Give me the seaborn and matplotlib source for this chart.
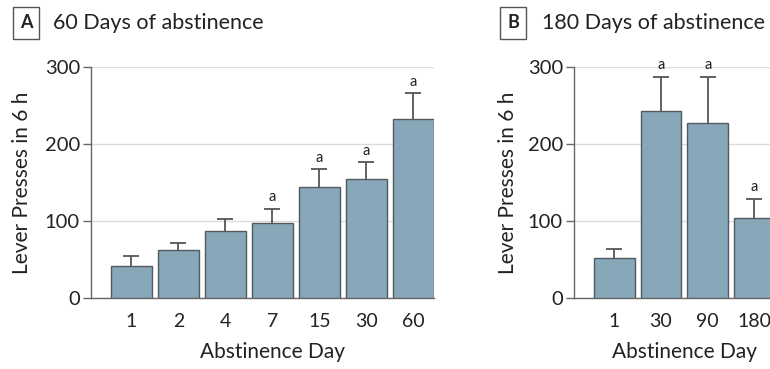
import matplotlib
matplotlib.use("Agg")
import matplotlib.pyplot as plt
import seaborn as sns
import pandas as pd
import numpy as np

days_a = ["1", "2", "4", "7", "15", "30", "60"]
mean_a = [42, 62, 87, 97, 144, 154, 233]
err_a = [13, 10, 15, 19, 23, 22, 33]
sig_a = ["", "", "", "a", "a", "a", "a"]

days_b = ["1", "30", "90", "180"]
mean_b = [52, 243, 227, 104]
err_b = [12, 44, 60, 25]
sig_b = ["", "a", "a", "a"]

sns.set_theme(style="white")
plt.rcParams['font.family'] = ['Lato', 'DejaVu Sans']

BAR = "#87a8b8"
EDGE = "#505a60"
W, H = 770, 369
fig = plt.figure(figsize=(W / 100, H / 100), dpi=100)

def px(x0, y0, x1, y1):
    return [x0 / W, 1 - y1 / H, (x1 - x0) / W, (y1 - y0) / H]

def panel(rect, days, means, errs, sig, letter, title, box_x, title_x, xright,
          label_cx, ylab_off):
    ax = fig.add_axes(rect)
    df = pd.DataFrame({"day": days, "mean": means})
    sns.barplot(data=df, x="day", y="mean", order=days, color=BAR,
                width=0.87, edgecolor=EDGE, linewidth=1.0, saturation=1,
                ax=ax, zorder=3)
    x = np.arange(len(days))
    tops = np.array(means) + np.array(errs)
    ax.vlines(x, means, tops, colors="#555555", linewidth=1.3, zorder=2)
    ax.hlines(tops, x - 0.17, x + 0.17, colors="#555555", linewidth=1.3,
              zorder=2)
    for xi, t, s in zip(x, tops, sig):
        if s:
            ax.text(xi, t + 6, s, ha="center", va="bottom", fontsize=10.5,
                    color="#222222")
    ax.set_ylim(0, 300)
    ax.set_xlim(-0.86, xright)
    ax.set_yticks([0, 100, 200, 300])
    ax.yaxis.grid(True, color="#dcdcdc", linewidth=1, zorder=0)
    ax.set_axisbelow(True)
    for s in ["top", "right"]:
        ax.spines[s].set_visible(False)
    for s in ["left", "bottom"]:
        ax.spines[s].set_color("#666666")
        ax.spines[s].set_linewidth(1.0)
    ax.tick_params(axis="y", which="both", left=True, length=6, width=1,
                   color="#666666", labelsize=14.5, pad=2, labelcolor="#222222")
    ax.tick_params(axis="x", bottom=False, labelsize=14, pad=5,
                   labelcolor="#222222")
    ax.set_xlabel("Abstinence Day", fontsize=15, color="#222222")
    ax.set_ylabel("Lever Presses in 6 h", fontsize=15, color="#222222")
    x0 = rect[0] * W
    wpx = rect[2] * W
    ax.xaxis.set_label_coords((label_cx - x0) / wpx, -(352 - 298) / 231,
                              transform=ax.transAxes)
    ax.xaxis.label.set_va("center")
    ax.yaxis.set_label_coords(-ylab_off / wpx, 0.5, transform=ax.transAxes)
    ax.yaxis.label.set_va("center")
    fig.text(box_x / W, 1 - 23 / H, letter, ha="center", va="center",
             fontsize=13, fontweight="bold", color="#222222",
             bbox=dict(boxstyle="square,pad=0.4", fc="white", ec="#555555",
                       lw=1.0))
    fig.text(title_x / W, 1 - 23 / H, title, ha="left", va="center",
             fontsize=15.5, color="#222222")
    return ax

panel(px(91, 67, 434, 298), days_a, mean_a, err_a, sig_a, "A",
      "60 Days of abstinence", 26, 53, 6.44, 272, 69)
panel(px(574, 67, 775, 298), days_b, mean_b, err_b, sig_b, "B",
      "180 Days of abstinence", 513, 542, 3.44, 685, 66)

fig.savefig("out.png", dpi=100)
